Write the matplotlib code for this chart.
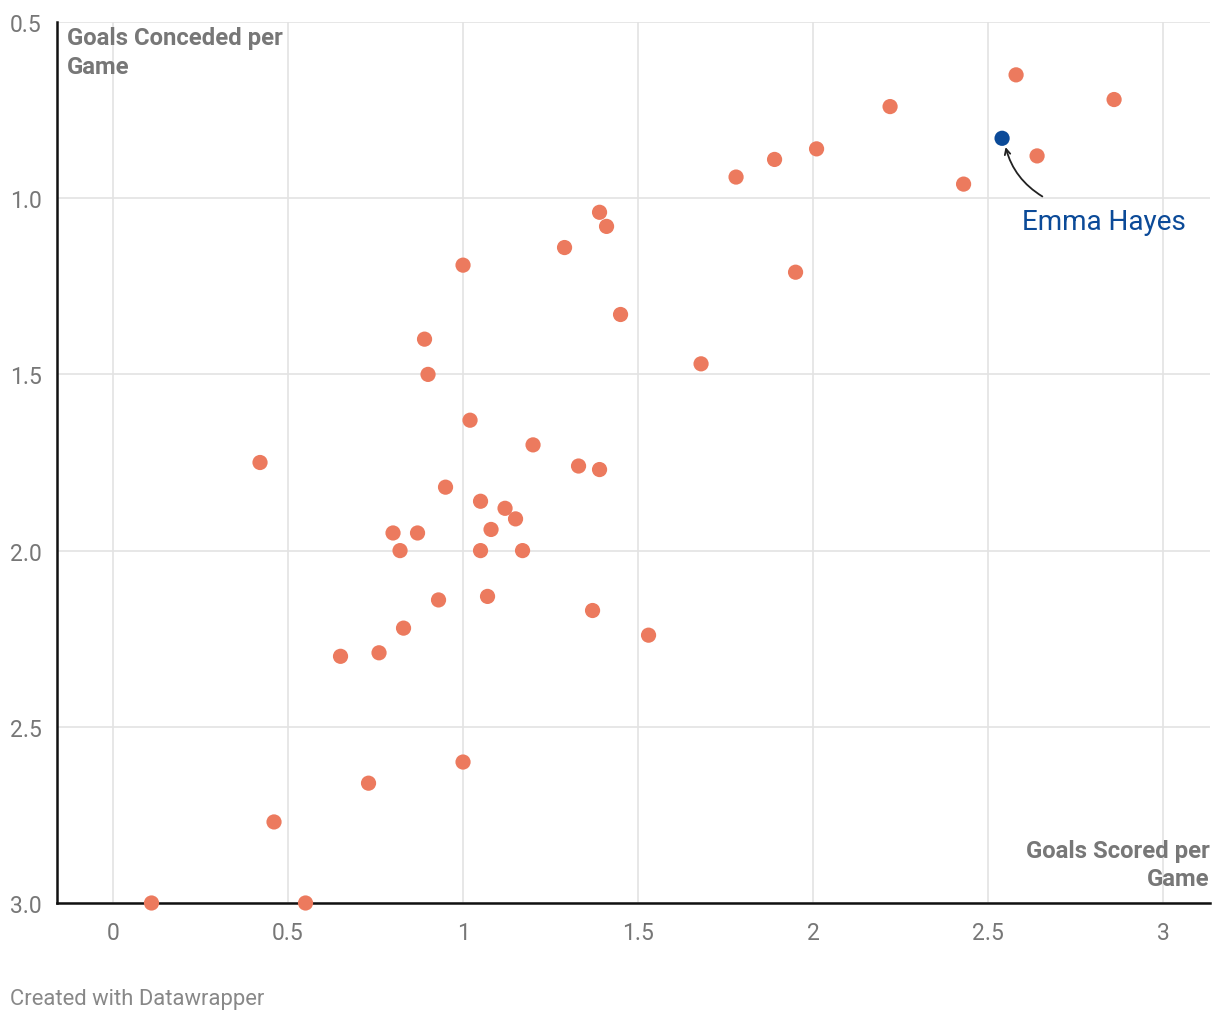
import matplotlib
matplotlib.use("Agg")
from matplotlib import pyplot as plt

plt.rcParams['font.family'] = ['Roboto', 'DejaVu Sans']

# goals scored / conceded per game, one entry per manager
scored = [2.58, 2.86, 2.22, 2.64, 2.01, 1.89, 1.78, 2.43, 1.39, 1.41,
          1.29, 1.00, 1.95, 1.45, 0.89, 0.90, 1.68, 1.02, 1.20, 0.42,
          1.33, 1.39, 0.95, 1.05, 1.12, 1.15, 0.80, 0.87, 1.08, 0.82,
          1.05, 1.17, 0.93, 1.07, 1.37, 0.83, 1.53, 0.65, 0.76, 1.00,
          0.73, 0.46, 0.11, 0.55]
conceded = [0.65, 0.72, 0.74, 0.88, 0.86, 0.89, 0.94, 0.96, 1.04, 1.08,
            1.14, 1.19, 1.21, 1.33, 1.40, 1.50, 1.47, 1.63, 1.70, 1.75,
            1.76, 1.77, 1.82, 1.86, 1.88, 1.91, 1.95, 1.95, 1.94, 2.00,
            2.00, 2.00, 2.14, 2.13, 2.17, 2.22, 2.24, 2.30, 2.29, 2.60,
            2.66, 2.77, 3.00, 3.00]
hl_name = "Emma Hayes"
hl_scored = 2.54
hl_conceded = 0.83

xticks = [0, 0.5, 1, 1.5, 2, 2.5, 3]
xticklabels = ["0", "0.5", "1", "1.5", "2", "2.5", "3"]
yticks = [0.5, 1.0, 1.5, 2.0, 2.5, 3.0]
yticklabels = ["0.5", "1.0", "1.5", "2.0", "2.5", "3.0"]

fig = plt.figure(figsize=(12.2, 10.2), dpi=100)
ax = fig.add_axes([57/1220, 116/1020, 1153/1220, 881/1020])

ax.scatter(scored, conceded, s=120, color='#ec7a5e', edgecolors='none',
           zorder=3, clip_on=False)
ax.scatter([hl_scored], [hl_conceded], s=120, color='#0b4a98',
           edgecolors='none', zorder=4, clip_on=False)

ax.set_xlim(-0.16, 3.134)
ax.set_ylim(3.0, 0.5)
ax.set_xticks(xticks)
ax.set_xticklabels(xticklabels)
ax.set_yticks(yticks)
ax.set_yticklabels(yticklabels)
ax.tick_params(axis='both', length=0, labelsize=16.5, labelcolor='#777777')
ax.tick_params(axis='x', pad=13)
ax.tick_params(axis='y', pad=11)

ax.grid(True, color='#e3e3e3', linewidth=1.2, zorder=0)
ax.set_axisbelow(True)
for s in ['top', 'right']:
    ax.spines[s].set_visible(False)
for s in ['left', 'bottom']:
    ax.spines[s].set_linewidth(1.8)
    ax.spines[s].set_color('#111111')
    ax.spines[s].set_zorder(2)

# axis titles inside the plot area
ax.annotate("Goals Conceded per\nGame", xy=(0, 1), xycoords='axes fraction',
            xytext=(7, -3), textcoords='offset points', ha='left', va='top',
            fontsize=17.2, fontweight='bold', color='#777777', linespacing=1.3)
ax.annotate("Goals Scored per\nGame", xy=(1, 0), xycoords='axes fraction',
            xytext=(0, 9), textcoords='offset points', ha='right', va='bottom',
            fontsize=17.2, fontweight='bold', color='#777777', linespacing=1.3)

# highlighted manager
ax.annotate("", xy=(hl_scored + 0.01, hl_conceded + 0.025),
            xytext=(hl_scored + 0.115, hl_conceded + 0.165),
            arrowprops=dict(arrowstyle='->', color='#222222', lw=1.3,
                            shrinkA=0, shrinkB=0,
                            connectionstyle='arc3,rad=-0.2'))
ax.text(hl_scored + 0.058, hl_conceded + 0.235, hl_name, ha='left',
        va='center', fontsize=20.1, color='#0b4a98')

fig.text(10/1220, 1 - 1000/1020, "Created with Datawrapper", ha='left',
         va='center', fontsize=15.8, color='#888888')

fig.savefig('out.png', dpi=100)
